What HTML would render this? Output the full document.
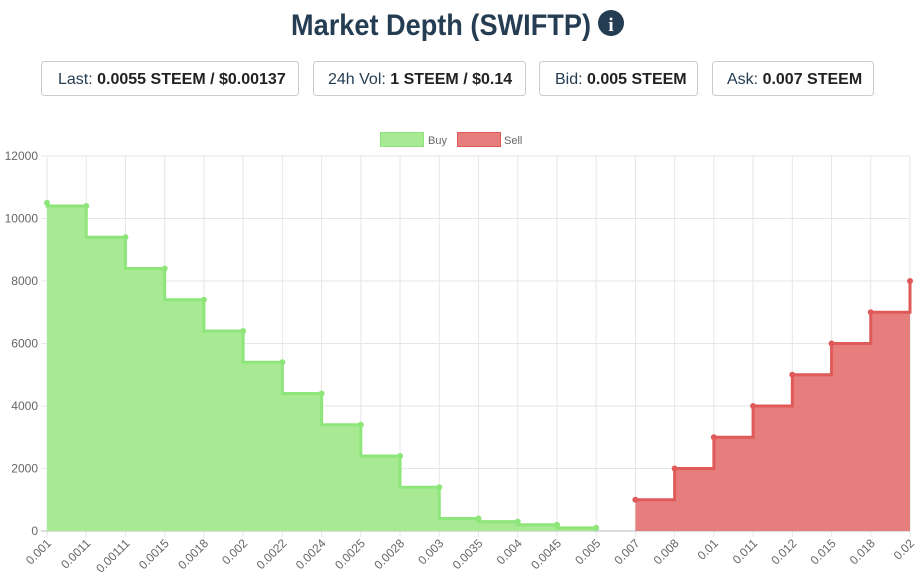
<!DOCTYPE html>
<html><head><meta charset="utf-8"><style>
body{margin:0;background:#fff;font-family:"Liberation Sans",sans-serif}
svg{display:block}
</style></head><body>
<svg id="c" width="922" height="577" viewBox="0 0 922 577" xmlns="http://www.w3.org/2000/svg">
<text x="291" y="35" font-size="30" font-weight="bold" fill="#253d52" textLength="300" lengthAdjust="spacingAndGlyphs">Market Depth (SWIFTP)</text>
<g><circle cx="611" cy="23" r="13" fill="#253d52"/><text x="611" y="31" font-size="19" font-weight="bold" fill="#fff" text-anchor="middle" font-family="Liberation Serif,serif">i</text></g>
<g font-size="16" fill="#253d52">
<g><rect x="41.5" y="61.5" width="257" height="34" rx="3" fill="#fff" stroke="#ccc"/><text x="58" y="84">Last: <tspan font-weight="bold" fill="#222">0.0055 STEEM / $0.00137</tspan></text></g>
<g><rect x="313.5" y="61.5" width="212" height="34" rx="3" fill="#fff" stroke="#ccc"/><text x="328" y="84">24h Vol: <tspan font-weight="bold" fill="#222">1 STEEM / $0.14</tspan></text></g>
<g><rect x="539.5" y="61.5" width="158" height="34" rx="3" fill="#fff" stroke="#ccc"/><text x="555" y="84">Bid: <tspan font-weight="bold" fill="#222">0.005 STEEM</tspan></text></g>
<g><rect x="712.5" y="61.5" width="161" height="34" rx="3" fill="#fff" stroke="#ccc"/><text x="727" y="84">Ask: <tspan font-weight="bold" fill="#222">0.007 STEEM</tspan></text></g>
</g>
<g font-size="11" fill="#666">
<g><rect x="380.5" y="132.5" width="43" height="14" fill="#a8e994" stroke="#8ee57a"/><text x="428" y="144">Buy</text></g>
<g><rect x="457.5" y="132.5" width="43" height="14" fill="#e77e7e" stroke="#e05a5a"/><text x="504" y="144">Sell</text></g>
</g>
<g id="grid"></g><g id="plot"></g><g id="axes" font-size="12" fill="#666"></g>
</svg>
<script>
const categories=["0.001","0.0011","0.00111","0.0015","0.0018","0.002","0.0022","0.0024","0.0025","0.0028","0.003","0.0035","0.004","0.0045","0.005","0.007","0.008","0.01","0.011","0.012","0.015","0.018","0.02"];
const buyValues=[10500,10400,9400,8400,7400,6400,5400,4400,3400,2400,1400,400,300,200,100,null,null,null,null,null,null,null,null];
const sellValues=[null,null,null,null,null,null,null,null,null,null,null,null,null,null,null,1000,2000,3000,4000,5000,6000,7000,8000];
const yTicks=[0,2000,4000,6000,8000,10000,12000];
const NS="http://www.w3.org/2000/svg";
const X0=47,X1=910,Y0=531,Y1=156,YMAX=12000;
const xs=i=>X0+i*(X1-X0)/(categories.length-1);
const ys=v=>Y0-v*(Y0-Y1)/YMAX;
function mk(tag,attrs,parent){const e=document.createElementNS(NS,tag);for(const k in attrs)e.setAttribute(k,attrs[k]);parent.appendChild(e);return e;}
const grid=document.getElementById('grid'),plot=document.getElementById('plot'),axes=document.getElementById('axes');
categories.forEach((c,i)=>{
  const l=mk('line',{x1:xs(i),x2:xs(i),y1:Y1,y2:Y0+6,stroke:'#e6e6e6'},grid);
  
  
  const t=mk('text',{x:xs(i)+5,y:Y0+13,'text-anchor':'end',transform:`rotate(-45 ${xs(i)+5} ${Y0+13})`},axes);
  t.textContent=c;
  
  
});
yTicks.forEach(v=>{
  const l=mk('line',{x1:X0-6,x2:X1,y1:ys(v),y2:ys(v),stroke:v===0?'#bbb':'#e6e6e6'},grid);
  
  
  const t=mk('text',{x:X0-9,y:ys(v)+4,'text-anchor':'end'},axes);
  t.textContent=v;
  
  
});
function series(vals,mode,fill,stroke,name){
  const pts=[];vals.forEach((v,i)=>{if(v!==null)pts.push([xs(i),ys(v)]);});
  let d=`M${pts[0][0]},${pts[0][1]}`;
  for(let k=1;k<pts.length;k++){const [px,py]=pts[k-1],[x,y]=pts[k];
    d+=mode==='before'?` L${px},${y} L${x},${y}`:` L${x},${py} L${x},${y}`;}
  const area=mk('path',{d:d+` L${pts[pts.length-1][0]},${Y0} L${pts[0][0]},${Y0} Z`,fill:fill},plot);
  
  
  const line=mk('path',{d:d,fill:'none',stroke:stroke,'stroke-width':3},plot);
  
  
  pts.forEach(p=>{const c=mk('circle',{cx:p[0],cy:p[1],r:3,fill:stroke},plot);
    
    });
}
series(buyValues,'before','#a8e994','#8ee57a','buy');
series(sellValues,'after','#e77e7e','#e05a5a','sell');
</script>
</body></html>
